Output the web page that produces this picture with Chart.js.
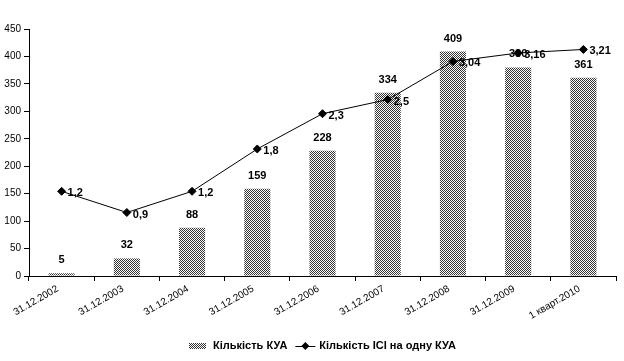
<!DOCTYPE html>
<html>
<head>
<meta charset="utf-8">
<script src="https://cdn.jsdelivr.net/npm/chart.js@4"></script>
<style>
	body { margin: 0; background: #fff; }
	canvas { display: block; }
</style>
</head>
<body>
<canvas id="chart" width="624" height="361"></canvas>
<script>
const labels = ['31.12.2002', '31.12.2003', '31.12.2004', '31.12.2005', '31.12.2006', '31.12.2007', '31.12.2008', '31.12.2009', '1 кварт.2010'];
const kuaCount = [5, 32, 88, 159, 228, 334, 409, 380, 361];
const iciPerKua = [1.2, 0.9, 1.2, 1.8, 2.3, 2.5, 3.04, 3.16, 3.21];
const yTicks = [0, 50, 100, 150, 200, 250, 300, 350, 400, 450];

const barName = 'Кількість КУА';
const lineName = 'Кількість ІСІ на одну КУА';

// checkered grey fill like the old excel bars
const makePattern = () => {
	const c = document.createElement('canvas');
	c.width = 2;
	c.height = 2;
	const cx = c.getContext('2d');
	cx.fillStyle = '#ffffff';
	cx.fillRect(0, 0, 2, 2);
	cx.fillStyle = '#333333';
	cx.fillRect(0, 0, 1, 1);
	cx.fillRect(1, 1, 1, 1);
	return cx.createPattern(c, 'repeat');
};
const barFill = makePattern();

const fmt = (v) => String(v).replace('.', ',');

const labelPlugin = {
	id: 'labelPlugin',
	afterDatasetsDraw(chart) {
		const ctx = chart.ctx;
		ctx.save();
		ctx.font = 'bold 11px "Liberation Sans", Arial, sans-serif';
		ctx.fillStyle = '#000';
		ctx.textBaseline = 'middle';

		// bar values above bars
		ctx.textAlign = 'center';
		chart.getDatasetMeta(1).data.forEach((bar, i) => {
			ctx.fillText(kuaCount[i], bar.x, bar.y - 13);
		});

		// line values right of points
		ctx.textAlign = 'left';
		chart.getDatasetMeta(0).data.forEach((pt, i) => {
			ctx.fillText(fmt(iciPerKua[i]), pt.x + 6, pt.y + 2);
		});
		ctx.restore();
	},
	afterDraw(chart) {
		const ctx = chart.ctx;
		const area = chart.chartArea;
		ctx.save();
		ctx.font = 'bold 11px "Liberation Sans", Arial, sans-serif';
		ctx.textBaseline = 'middle';
		ctx.textAlign = 'left';
		const y = 346;
		const w1 = ctx.measureText(barName).width;
		const w2 = ctx.measureText(lineName).width;
		const total = 17 + 7 + w1 + 8 + 20 + 4 + w2;
		let x = (area.left + area.right) / 2 - total / 2;

		ctx.fillStyle = barFill;
		ctx.fillRect(x, y - 3, 17, 6);
		x += 17 + 7;
		ctx.fillStyle = '#000';
		ctx.fillText(barName, x, y);
		x += w1 + 8;

		ctx.strokeStyle = '#000';
		ctx.lineWidth = 1;
		ctx.beginPath();
		ctx.moveTo(x, y + 0.5);
		ctx.lineTo(x + 20, y + 0.5);
		ctx.stroke();
		ctx.beginPath();
		ctx.moveTo(x + 10, y - 4);
		ctx.lineTo(x + 14, y);
		ctx.lineTo(x + 10, y + 4);
		ctx.lineTo(x + 6, y);
		ctx.closePath();
		ctx.fill();
		x += 20 + 4;
		ctx.fillText(lineName, x, y);
		ctx.restore();
	},
};

const chart = new Chart(document.getElementById('chart'), {
	data: {
		labels: labels,
		datasets: [
			{
				type: 'line',
				label: lineName,
				data: iciPerKua,
				yAxisID: 'y1',
				borderColor: '#000',
				borderWidth: 1,
				pointStyle: 'rectRot',
				pointRadius: 4,
				pointBackgroundColor: '#000',
				pointBorderColor: '#000',
				order: 0,
			},
			{
				type: 'bar',
				label: barName,
				data: kuaCount,
				yAxisID: 'y',
				backgroundColor: barFill,
				borderWidth: 0,
				barPercentage: 0.4,
				categoryPercentage: 1,
				order: 1,
			},
		],
	},
	options: {
		responsive: false,
		animation: false,
		layout: {
			padding: { top: 29, right: 8, left: 0, bottom: 0 },
		},
		plugins: {
			legend: { display: false },
			tooltip: { enabled: false },
		},
		scales: {
			x: {
				offset: true,
				grid: {
					offset: true,
					drawOnChartArea: false,
					color: '#000',
					tickLength: 5,
				},
				border: { color: '#000' },
				ticks: {
					color: '#000',
					font: { family: '"Liberation Sans", Arial, sans-serif', size: 10 },
					maxRotation: 30,
					minRotation: 30,
					autoSkip: false,
					padding: 2,
					labelOffset: -4,
				},
				afterFit: (scale) => {
					scale.height = 85;
				},
			},
			y: {
				min: 0,
				max: 450,
				afterBuildTicks: (scale) => {
					scale.ticks = yTicks.map((v) => ({ value: v }));
				},
				grid: {
					drawOnChartArea: false,
					color: '#000',
					tickLength: 5,
				},
				border: { color: '#000' },
				ticks: {
					color: '#000',
					font: { family: '"Liberation Sans", Arial, sans-serif', size: 10 },
					padding: 3,
				},
				afterFit: (scale) => {
					scale.width = 29;
				},
			},
			y1: {
				display: false,
				min: 0,
				max: 3.5,
			},
		},
	},
	plugins: [labelPlugin],
});
</script>
</body>
</html>
